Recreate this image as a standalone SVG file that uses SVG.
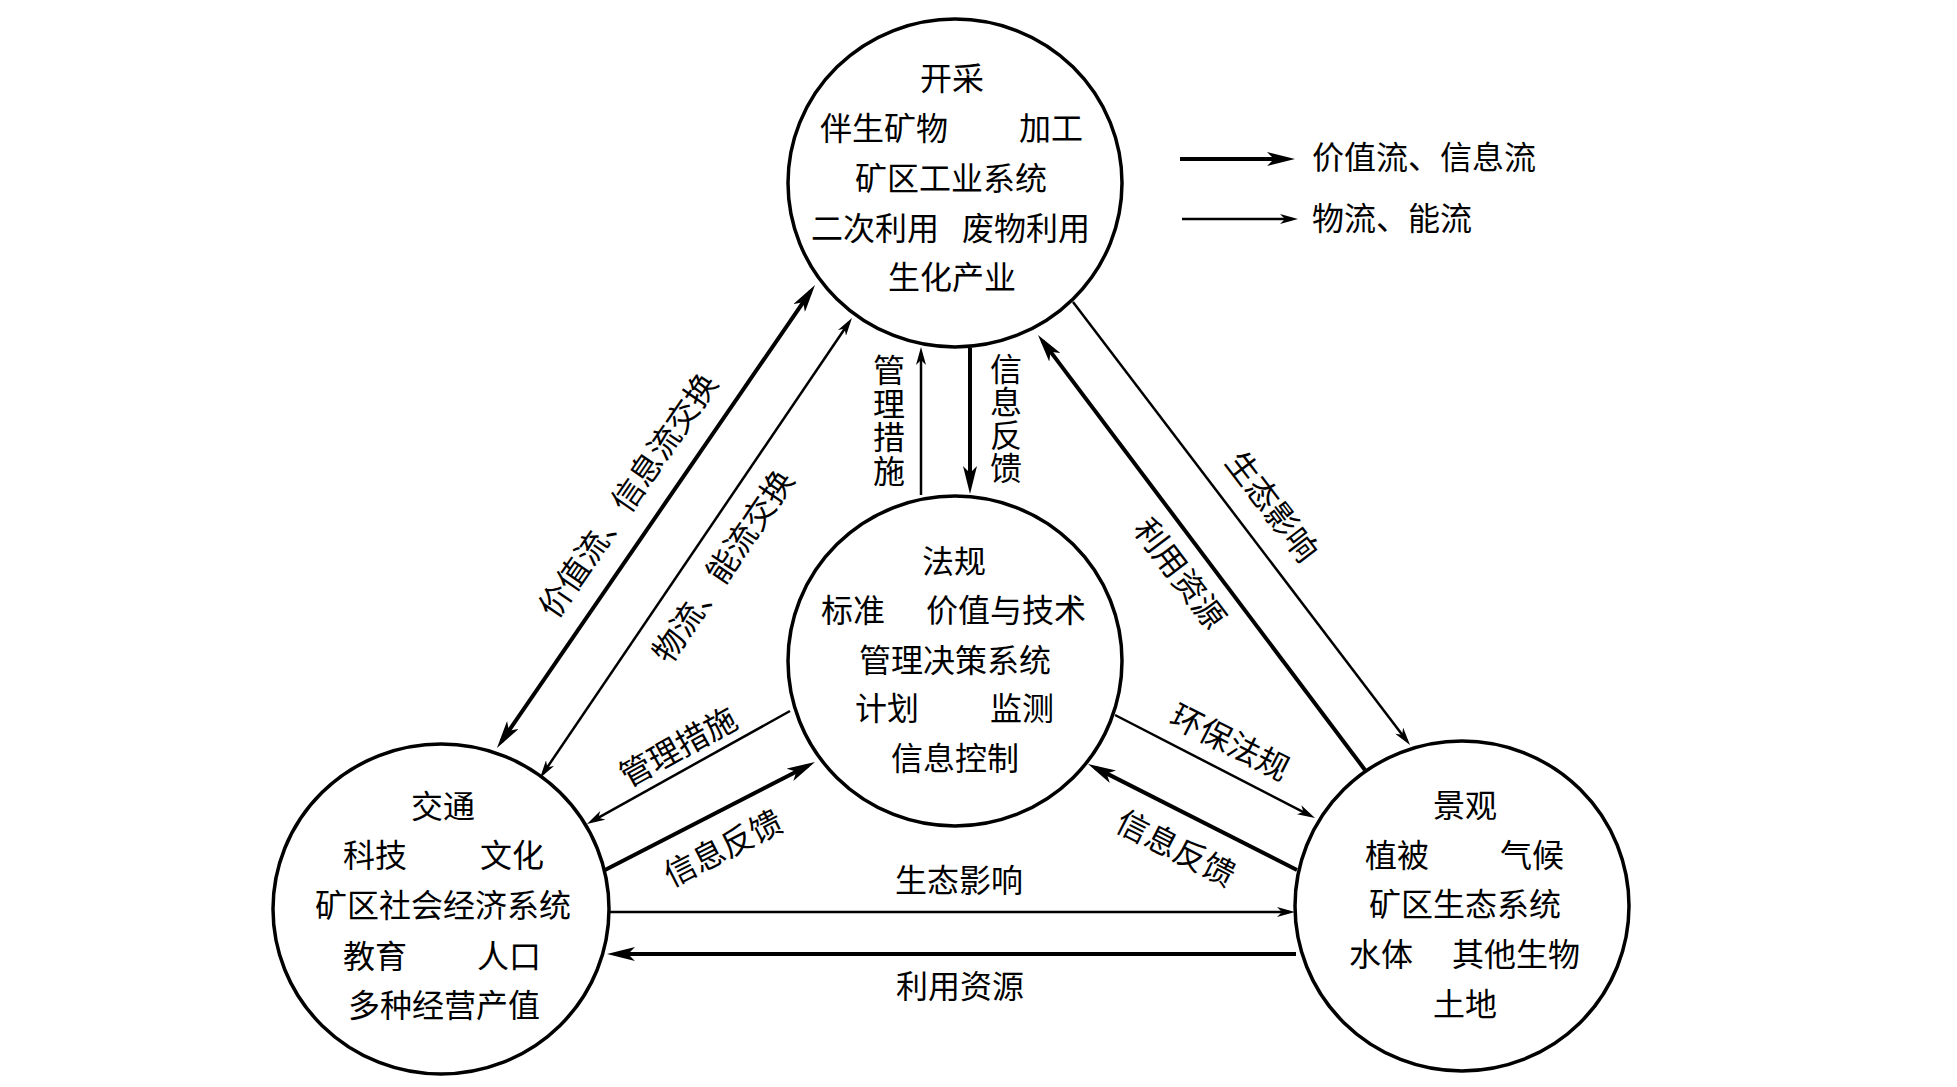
<svg xmlns="http://www.w3.org/2000/svg" width="1957" height="1087" viewBox="0 0 1957 1087">
  <style>
    .bg { fill: #ffffff; }
    .node { fill: #ffffff; stroke: #000000; stroke-width: 3.5; }
    text { font-family: 'Noto Sans CJK SC', 'Noto Sans CJK TC', sans-serif; font-size: 32px; fill: #000000; text-anchor: middle; dominant-baseline: central; }
    .legend-text { text-anchor: start; }
    .vert { writing-mode: vertical-rl; text-anchor: start; }
    .thick { fill: none; stroke: #000000; stroke-width: 4; }
    .thin { fill: none; stroke: #000000; stroke-width: 2.5; }
    .thick-end { marker-end: url(#headThick); }
    .thick-both { marker-start: url(#headThick); marker-end: url(#headThick); }
    .thin-end { marker-end: url(#headThin); }
    .thin-both { marker-start: url(#headThin); marker-end: url(#headThin); }
  </style>
  <defs>
    <marker id="headThick" viewBox="0 0 28 14" markerWidth="28" markerHeight="14" refX="20" refY="7" orient="auto-start-reverse" markerUnits="userSpaceOnUse">
      <path d="M0,0 L28,7 L0,14 L7,7 Z" fill="#000000"/>
    </marker>
    <marker id="headThin" viewBox="0 0 18 10" markerWidth="18" markerHeight="10" refX="12" refY="5" orient="auto-start-reverse" markerUnits="userSpaceOnUse">
      <path d="M0,0 L18,5 L0,10 L5,5 Z" fill="#000000"/>
    </marker>
  </defs>
  <rect class="bg" x="0" y="0" width="1957" height="1087"/>

  <g id="connectors">
    <!-- top <-> left -->
    <line class="thick thick-both" x1="501.5" y1="741.4" x2="810.5" y2="291.6"/>
    <line class="thin thin-both" x1="543.4" y1="773.0" x2="848.6" y2="323.0"/>
    <!-- center <-> top -->
    <line class="thin thin-end" x1="921" y1="495" x2="921" y2="353"/>
    <line class="thick thick-end" x1="970" y1="348" x2="970" y2="486"/>
    <!-- top <-> right -->
    <line class="thin thin-end" x1="1073" y1="302" x2="1406.4" y2="740.2"/>
    <line class="thick thick-end" x1="1365" y1="770" x2="1042.8" y2="341.4"/>
    <!-- center <-> left -->
    <line class="thin thin-end" x1="790" y1="711" x2="592.2" y2="821.1"/>
    <line class="thick thick-end" x1="605" y1="870" x2="807.9" y2="765.7"/>
    <!-- center <-> right -->
    <line class="thin thin-end" x1="1115" y1="715" x2="1309.7" y2="815.3"/>
    <line class="thick thick-end" x1="1297" y1="870" x2="1095.1" y2="767.6"/>
    <!-- left <-> right -->
    <line class="thin thin-end" x1="609" y1="912" x2="1289" y2="912"/>
    <line class="thick thick-end" x1="1296" y1="954" x2="615" y2="954"/>

    <g id="connector-labels">
      <text transform="translate(626,494) rotate(-55.5)">价值流、信息流交换</text>
      <text transform="translate(721,565) rotate(-55.9)">物流、能流交换</text>
      <text class="vert" x="889" y="354" style="letter-spacing:1.5px">管理措施</text>
      <text class="vert" x="1006" y="353" style="letter-spacing:1px">信息反馈</text>
      <text transform="translate(1274,505) rotate(52.7)">生态影响</text>
      <text transform="translate(1182,572) rotate(53)">利用资源</text>
      <text transform="translate(677,745) rotate(-29)">管理措施</text>
      <text transform="translate(722,846) rotate(-27)">信息反馈</text>
      <text transform="translate(1231,740) rotate(27)">环保法规</text>
      <text transform="translate(1177,846) rotate(27)">信息反馈</text>
      <text x="959" y="878">生态影响</text>
      <text x="960" y="984">利用资源</text>
    </g>
  </g>

  <g id="node-industry">
    <ellipse class="node" cx="955" cy="183" rx="167" ry="164"/>
    <text x="952" y="76">开采</text>
    <text x="884" y="126">伴生矿物</text>
    <text x="1051" y="126">加工</text>
    <text x="951" y="176">矿区工业系统</text>
    <text x="875" y="226">二次利用</text>
    <text x="1026" y="226">废物利用</text>
    <text x="952" y="275">生化产业</text>
  </g>

  <g id="node-management">
    <ellipse class="node" cx="955" cy="661" rx="167" ry="165"/>
    <text x="954" y="559">法规</text>
    <text x="853" y="608">标准</text>
    <text x="1006" y="608">价值与技术</text>
    <text x="955" y="658">管理决策系统</text>
    <text x="887" y="706">计划</text>
    <text x="1022" y="706">监测</text>
    <text x="955" y="756">信息控制</text>
  </g>

  <g id="node-social">
    <ellipse class="node" cx="441" cy="909" rx="168" ry="165"/>
    <text x="443" y="804">交通</text>
    <text x="375" y="853">科技</text>
    <text x="512" y="853">文化</text>
    <text x="443" y="903">矿区社会经济系统</text>
    <text x="375" y="954">教育</text>
    <text x="509" y="954">人口</text>
    <text x="444" y="1003">多种经营产值</text>
  </g>

  <g id="node-ecology">
    <ellipse class="node" cx="1462" cy="906" rx="167" ry="165"/>
    <text x="1465" y="803">景观</text>
    <text x="1397" y="853">植被</text>
    <text x="1532" y="853">气候</text>
    <text x="1465" y="902">矿区生态系统</text>
    <text x="1381" y="952">水体</text>
    <text x="1516" y="952">其他生物</text>
    <text x="1465" y="1002">土地</text>
  </g>

  <g id="legend">
    <line class="thick thick-end" x1="1180" y1="159" x2="1287" y2="159"/>
    <line class="thin thin-end" x1="1182" y1="219" x2="1292" y2="219"/>
    <text class="legend-text" x="1312" y="155">价值流、信息流</text>
    <text class="legend-text" x="1312" y="216">物流、能流</text>
  </g>
</svg>
